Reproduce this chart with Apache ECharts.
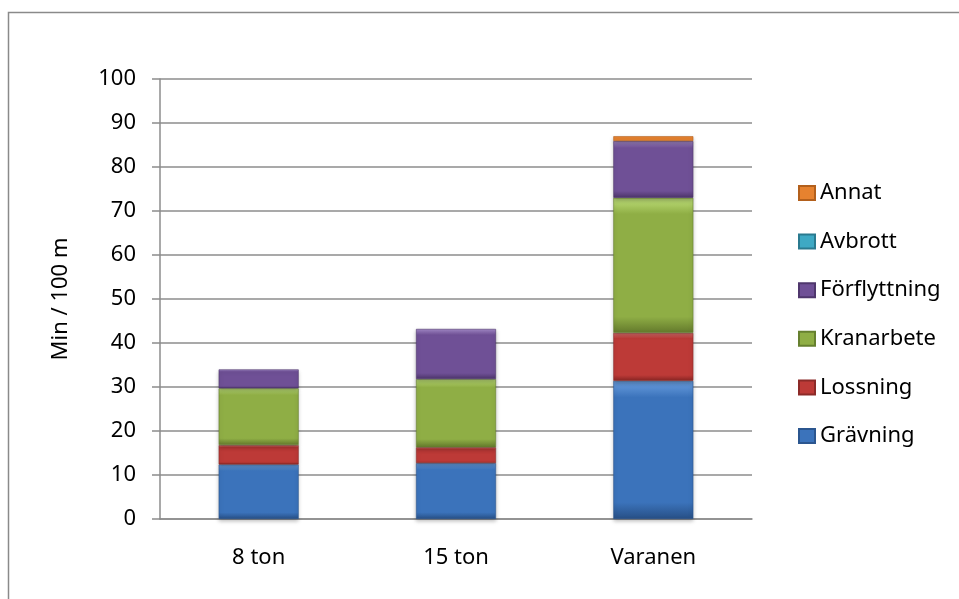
<!DOCTYPE html>
<html>
<head>
<meta charset="utf-8">
<script src="https://cdn.jsdelivr.net/npm/echarts@6/dist/echarts.min.js"></script>
<style>
  html, body { margin: 0; padding: 0; background: #fff; }
  #chart { width: 959px; height: 599px; }
</style>
</head>
<body>
<div id="chart"></div>
<script>
// kategorier och värden (min / 100 m)
const categories = ['8 ton', '15 ton', 'Varanen'];
const gravning = [12.4, 12.7, 31.4];
const lossning = [4.4, 3.6, 10.9];
const kranarbete = [12.9, 15.5, 30.7];
const forflyttning = [4.3, 11.4, 12.9];
const avbrott = [0, 0, 0];
const annat = [0, 0, 1.1];
const yTicks = [0, 10, 20, 30, 40, 50, 60, 70, 80, 90, 100];

const font = '"Noto Sans", sans-serif';

// ljusare topp, mörkare botten -> ungefär som Excels fasade staplar
function bevel(light, base, dark) {
  return new echarts.graphic.LinearGradient(0, 0, 0, 1, [
    { offset: 0, color: light },
    { offset: 0.12, color: base },
    { offset: 0.88, color: base },
    { offset: 1, color: dark }
  ]);
}

function bar(name, data, fill, edge) {
  return {
    name: name,
    type: 'bar',
    stack: 'tot',
    barWidth: 80,
    // nollor ritas inte alls (annars syns en tunn kantlinje)
    data: data.map(v => (v === 0 ? '-' : v)),
    itemStyle: {
      color: fill,
      borderColor: edge,
      borderWidth: 0.6,
      shadowColor: 'rgba(0,0,0,0.25)',
      shadowBlur: 4,
      shadowOffsetY: 2
    }
  };
}

const chart = echarts.init(document.getElementById('chart'));

chart.setOption({
  animation: false,
  textStyle: { fontFamily: font },
  graphic: [{
    type: 'rect',
    shape: { x: 8.5, y: 12.5, width: 1000, height: 1000 },
    style: { fill: 'none', stroke: '#8a8a8a', lineWidth: 1.5 },
    silent: true
  }],
  grid: { left: 160, right: 207, top: 79, bottom: 80 },
  legend: {
    orient: 'vertical',
    left: 793,
    top: 177,
    itemWidth: 16,
    itemHeight: 14,
    itemGap: 26.6,
    icon: 'rect',
    data: ['Annat', 'Avbrott', 'Förflyttning', 'Kranarbete', 'Lossning', 'Grävning'],
    textStyle: { fontFamily: font, fontSize: 22, lineHeight: 22, color: '#000' }
  },
  xAxis: {
    type: 'category',
    data: categories,
    axisLine: { lineStyle: { color: '#8c8c8c', width: 1.5 } },
    axisTick: { length: 8, lineStyle: { color: '#8c8c8c', width: 1.5 } },
    axisLabel: { margin: 28, fontSize: 22, color: '#000', fontFamily: font }
  },
  yAxis: {
    type: 'value',
    min: yTicks[0],
    max: yTicks[yTicks.length - 1],
    interval: 10,
    name: 'Min / 100 m',
    nameLocation: 'middle',
    nameRotate: 90,
    nameGap: 88,
    nameTextStyle: { fontSize: 22, color: '#000', fontFamily: font },
    axisLine: { show: true, lineStyle: { color: '#8c8c8c', width: 1.5 } },
    axisTick: { show: true, length: 8, lineStyle: { color: '#8c8c8c', width: 1.5 } },
    axisLabel: { margin: 24, fontSize: 22, color: '#000', fontFamily: font },
    splitLine: { lineStyle: { color: '#8c8c8c', width: 1.5 } }
  },
  series: [
    bar('Grävning', gravning, bevel('#6b9fe0', '#3b73bb', '#274f85'), '#2b568f'),
    bar('Lossning', lossning, bevel('#ec7673', '#bd3a37', '#872523'), '#8c2a28'),
    bar('Kranarbete', kranarbete, bevel('#bfe07a', '#8fae45', '#63792c'), '#66802f'),
    bar('Förflyttning', forflyttning, bevel('#a48ac9', '#6f5096', '#4c3469'), '#4f376d'),
    bar('Avbrott', avbrott, bevel('#7fd3ea', '#3ea9c4', '#2a7a8f'), '#2a7a8f'),
    bar('Annat', annat, bevel('#fbb06b', '#e6822f', '#b3601c'), '#b3601c')
  ]
});
</script>
</body>
</html>
